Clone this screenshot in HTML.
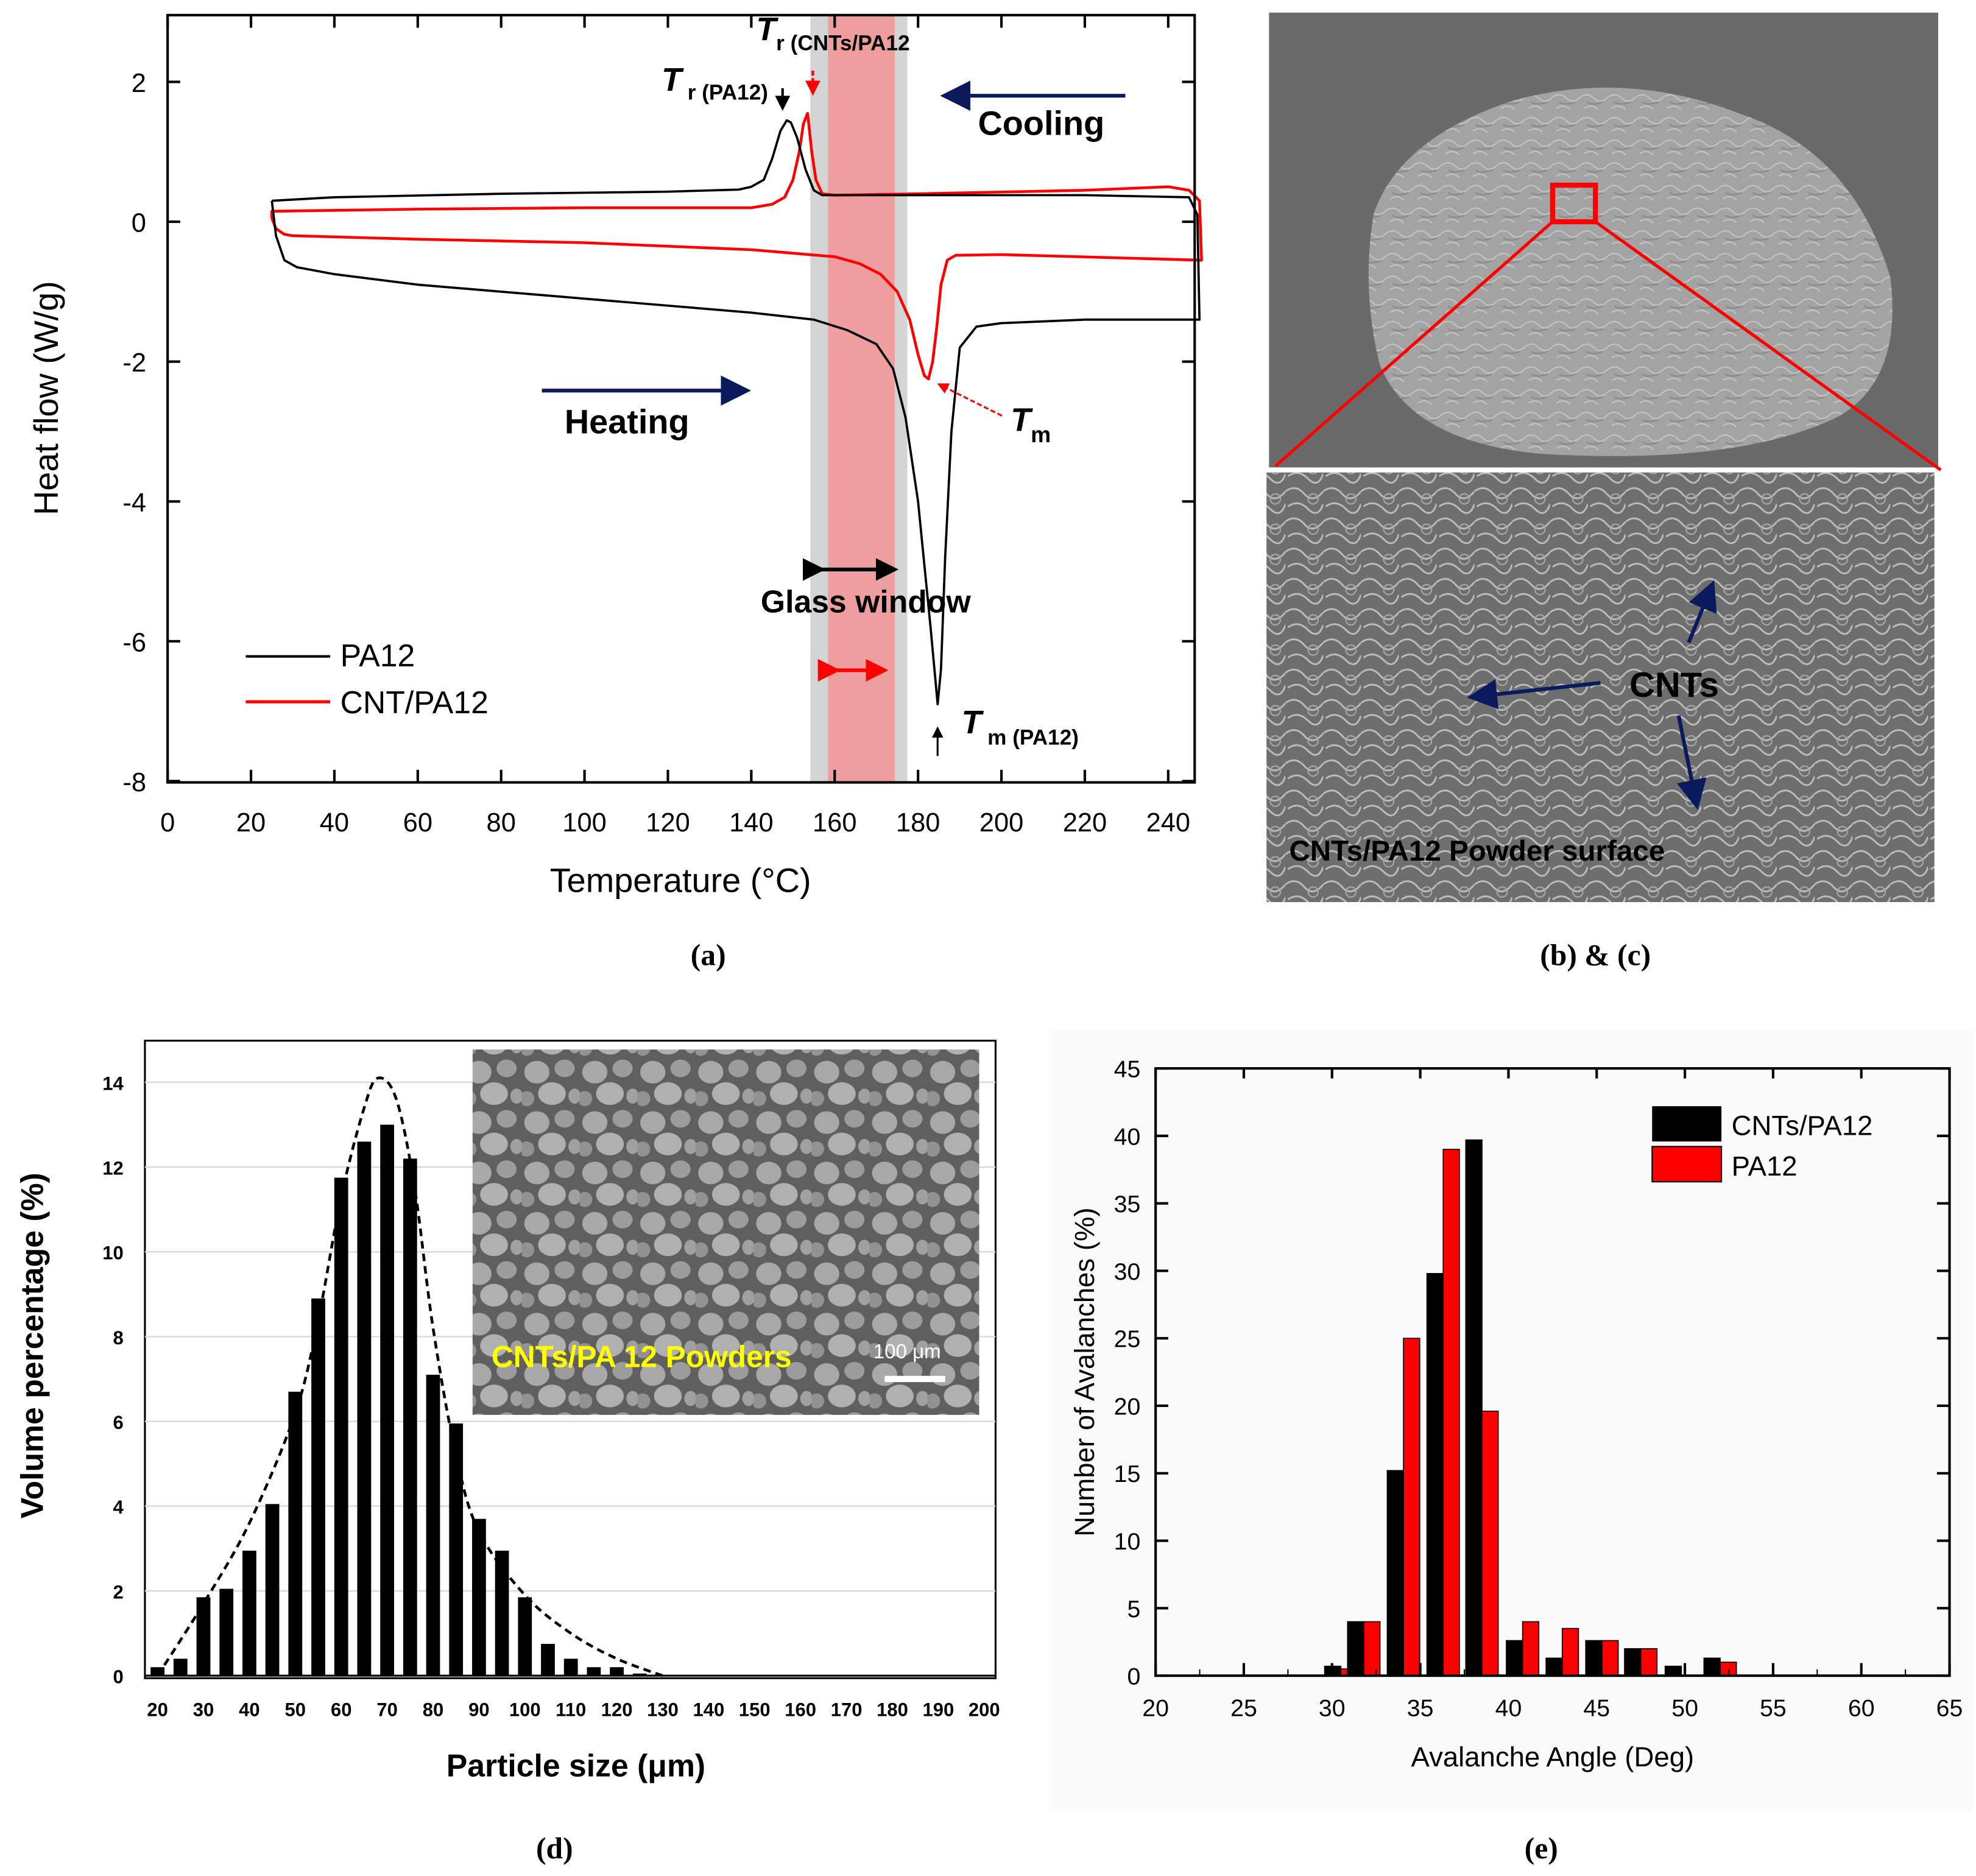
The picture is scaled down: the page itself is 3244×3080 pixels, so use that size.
<!DOCTYPE html>
<html><head><meta charset="utf-8"><style>
html,body{margin:0;padding:0;background:#fff;}
svg{display:block;}
text{font-family:"Liberation Sans",sans-serif;}
.cap{font-family:"Liberation Serif",serif;font-weight:bold;font-size:24px;}
.b{font-weight:bold;}
</style></head><body>
<svg id="fig" width="3244" height="3080" viewBox="0 0 1568 1489" preserveAspectRatio="none" xmlns="http://www.w3.org/2000/svg">
<defs>
<pattern id="grains" width="46" height="40" patternUnits="userSpaceOnUse">
<rect width="46" height="40" fill="#5f5f5f"/>
<ellipse cx="12" cy="11" rx="10" ry="9" fill="#a8a8a8"/>
<ellipse cx="34" cy="8" rx="8" ry="7" fill="#9c9c9c"/>
<ellipse cx="24" cy="28" rx="11" ry="9" fill="#b0b0b0"/>
<ellipse cx="4" cy="32" rx="6" ry="6" fill="#929292"/>
<ellipse cx="42" cy="30" rx="5" ry="6" fill="#a0a0a0"/>
</pattern>
<pattern id="fibers" width="30" height="24" patternUnits="userSpaceOnUse">
<rect width="30" height="24" fill="#6e6e6e"/>
<path d="M0 6 Q8 0 15 8 T30 6 M2 18 Q10 12 18 20 T30 16" stroke="#bdbdbd" stroke-width="1.4" fill="none"/>
<circle cx="22" cy="12" r="4" stroke="#a9a9a9" fill="none"/>
</pattern>
<pattern id="rough" width="22" height="18" patternUnits="userSpaceOnUse">
<rect width="22" height="18" fill="#a3a3a3"/>
<path d="M0 5 Q6 1 11 6 T22 5 M3 14 Q9 10 14 15" stroke="#c4c4c4" stroke-width="1" fill="none"/>
<path d="M5 9 Q10 12 18 9" stroke="#888" stroke-width="1" fill="none"/>
</pattern>
<marker id="arN" markerWidth="8" markerHeight="8" refX="6" refY="4" orient="auto" markerUnits="strokeWidth"><path d="M0,0 L8,4 L0,8z" fill="#0a1a5c"/></marker>
<marker id="arK" markerWidth="6" markerHeight="6" refX="5" refY="3" orient="auto" markerUnits="strokeWidth"><path d="M0,0 L6,3 L0,6z" fill="#000"/></marker>
<marker id="arR" markerWidth="6" markerHeight="6" refX="5" refY="3" orient="auto" markerUnits="strokeWidth"><path d="M0,0 L6,3 L0,6z" fill="#f00"/></marker>
</defs>

<!-- Panel A -->
<g id="pa">
<rect x="643" y="12" width="77" height="609" fill="#d4d4d4"/>
<rect x="657" y="12" width="53" height="609" fill="#ee9e9e"/>
<g id="paCurves"></g>
<rect x="133" y="12" width="815" height="609" fill="none" stroke="#000" stroke-width="2"/>
<g id="paAxes" font-size="21"></g>
<text x="540" y="708" font-size="27" text-anchor="middle">Temperature (°C)</text>
<text transform="translate(46,316) rotate(-90)" font-size="27" text-anchor="middle">Heat flow (W/g)</text>
<line x1="195" y1="521" x2="262" y2="521" stroke="#000" stroke-width="2"/>
<text x="270" y="529" font-size="25">PA12</text>
<line x1="195" y1="557" x2="262" y2="557" stroke="#f00" stroke-width="2.5"/>
<text x="270" y="566" font-size="25">CNT/PA12</text>
<line x1="430" y1="310" x2="590" y2="310" stroke="#0a1a5c" stroke-width="3" marker-end="url(#arN)"/>
<text x="448" y="344" font-size="27" class="b">Heating</text>
<line x1="893" y1="76" x2="752" y2="76" stroke="#0a1a5c" stroke-width="3" marker-end="url(#arN)"/>
<text x="776" y="107" font-size="27" class="b">Cooling</text>
<text x="525" y="72" font-size="26" class="b" font-style="italic">T<tspan font-size="17" dy="7" font-style="normal"> r (PA12)</tspan></text>
<line x1="621" y1="70" x2="621" y2="86" stroke="#000" stroke-width="2" marker-end="url(#arK)"/>
<text x="600" y="32" font-size="26" class="b" font-style="italic">T<tspan font-size="17" dy="8" font-style="normal">r (CNTs/PA12</tspan></text>
<line x1="645" y1="56" x2="645" y2="74" stroke="#f00" stroke-width="2" stroke-dasharray="4,2" marker-end="url(#arR)"/>
<line x1="795" y1="330" x2="745" y2="305" stroke="#f00" stroke-width="1.5" stroke-dasharray="4,2" marker-end="url(#arR)"/>
<text x="802" y="342" font-size="26" class="b" font-style="italic">T<tspan font-size="18" dy="9" font-style="normal">m</tspan></text>
<line x1="744" y1="600" x2="744" y2="578" stroke="#000" stroke-width="1.5" marker-end="url(#arK)"/>
<text x="763" y="582" font-size="26" class="b" font-style="italic">T<tspan font-size="17" dy="9" font-style="normal"> m (PA12)</tspan></text>
<line x1="652" y1="452" x2="710" y2="452" stroke="#000" stroke-width="3" marker-start="url(#arK)" marker-end="url(#arK)"/>
<text x="687" y="486" font-size="25" class="b" text-anchor="middle">Glass  window</text>
<line x1="664" y1="532" x2="702" y2="532" stroke="#f00" stroke-width="3" marker-start="url(#arR)" marker-end="url(#arR)"/>
</g>
<text x="562" y="766" class="cap" text-anchor="middle">(a)</text>

<!-- Panel B & C -->
<g>
<rect x="1007" y="10" width="531" height="361" fill="#6a6a6a"/>
<path d="M1090 170 Q1110 110 1200 80 Q1290 55 1380 90 Q1470 120 1500 220 Q1510 300 1460 330 Q1380 370 1220 360 Q1120 350 1095 290 Q1080 230 1090 170z" fill="url(#rough)"/>
<rect x="1232" y="147" width="34" height="29" fill="none" stroke="#f00" stroke-width="4"/>
<line x1="1232" y1="176" x2="1012" y2="370" stroke="#f00" stroke-width="2.5"/>
<line x1="1266" y1="176" x2="1540" y2="373" stroke="#f00" stroke-width="2.5"/>
<rect x="1005" y="375" width="530" height="341" fill="url(#fibers)"/>
<line x1="1270" y1="542" x2="1170" y2="553" stroke="#0a1a5c" stroke-width="3" marker-end="url(#arN)"/>
<line x1="1340" y1="510" x2="1358" y2="466" stroke="#0a1a5c" stroke-width="3" marker-end="url(#arN)"/>
<line x1="1332" y1="568" x2="1346" y2="637" stroke="#0a1a5c" stroke-width="3" marker-end="url(#arN)"/>
<text x="1293" y="553" font-size="28" class="b">CNTs</text>
<text x="1023" y="683" font-size="23" class="b">CNTs/PA12 Powder surface</text>
</g>
<text x="1266" y="766" class="cap" text-anchor="middle">(b) &amp; (c)</text>

<!-- Panel D -->
<g id="pd">
<rect x="115" y="826" width="675" height="506" fill="#fff" stroke="#000" stroke-width="1.5"/>
<g id="pdGrid"></g>
<rect x="375" y="833" width="402" height="290" fill="url(#grains)"/>
<text x="390" y="1085" font-size="24" class="b" fill="#ffff00">CNTs/PA 12 Powders</text>
<text x="693" y="1078" font-size="16" fill="#fff">100 μm</text>
<rect x="702" y="1092" width="48" height="5" fill="#fff"/>
<g id="pdBars"></g>
<g id="pdAxes" font-size="15" class="b"></g>
<text x="457" y="1410" font-size="25" class="b" text-anchor="middle">Particle size (μm)</text>
<text transform="translate(34,1068) rotate(-90)" font-size="25" class="b" text-anchor="middle">Volume percentage (%)</text>
</g>
<text x="440" y="1475" class="cap" text-anchor="middle">(d)</text>

<!-- Panel E -->
<g id="pe">
<rect x="832" y="818" width="734" height="620" fill="#fafafa"/>
<g id="peBars"></g>
<rect x="917" y="848" width="630" height="482" fill="none" stroke="#000" stroke-width="2"/>
<g id="peAxes" font-size="19"></g>
<rect x="1311" y="878" width="55" height="28" fill="#000"/>
<text x="1374" y="901" font-size="22">CNTs/PA12</text>
<rect x="1311" y="910" width="55" height="28" fill="#f00" stroke="#000"/>
<text x="1374" y="933" font-size="22">PA12</text>
<text x="1232" y="1402" font-size="22" text-anchor="middle">Avalanche Angle (Deg)</text>
<text transform="translate(868,1089) rotate(-90)" font-size="22" text-anchor="middle">Number of Avalanches (%)</text>
</g>
<text x="1223" y="1475" class="cap" text-anchor="middle">(e)</text>
</svg>
<script>
const NS="http://www.w3.org/2000/svg";
// ---- Panel A data
const pa12HeatT=[25,26,28,31,40,60,80,100,120,140,155,163,170,174,177,180,183,184.7,185.5,186.5,188,190,194,200,220,240,247.5];
const pa12HeatV=[0.3,-0.2,-0.55,-0.65,-0.75,-0.9,-1.0,-1.1,-1.2,-1.3,-1.4,-1.55,-1.75,-2.1,-2.8,-4.0,-5.8,-6.9,-6.4,-4.8,-3.0,-1.8,-1.5,-1.45,-1.4,-1.4,-1.4];
const pa12CoolT=[247.5,247,245,220,180,157,155,153,151,149.5,148.5,147,145,143,140,137,120,80,40,25];
const pa12CoolV=[-1.4,0.1,0.35,0.38,0.38,0.38,0.45,0.75,1.2,1.42,1.45,1.3,0.9,0.6,0.5,0.46,0.43,0.4,0.35,0.3];
const cntHeatT=[25,26,28,30,60,100,140,160,166,171,175,178,180,181.5,182.5,183.5,184.5,185.5,187,189,200,230,248];
const cntHeatV=[0.05,-0.1,-0.18,-0.2,-0.25,-0.3,-0.4,-0.5,-0.6,-0.75,-1.0,-1.4,-1.9,-2.2,-2.25,-2.0,-1.5,-0.9,-0.55,-0.48,-0.47,-0.52,-0.55];
const cntCoolT=[248,247.5,245,240,220,180,160,157,155.5,154.5,153.5,152.5,151.5,150,148,145,140,100,60,25,25];
const cntCoolV=[-0.55,0.3,0.45,0.5,0.45,0.4,0.38,0.4,0.6,1.0,1.55,1.4,1.0,0.6,0.35,0.25,0.2,0.2,0.18,0.15,0.05];
const paXTicks=[0,20,40,60,80,100,120,140,160,180,200,220,240];
const paYTicks=[2,0,-2,-4,-6,-8];
const ax=t=>133+t*(794/240), ay=v=>176-v*55.5;
function poly(T,V,col,name,w){const p=document.createElementNS(NS,"polyline");
p.setAttribute("points",T.map((t,i)=>ax(t)+","+ay(V[i])).join(" "));
p.setAttribute("fill","none");p.setAttribute("stroke",col);p.setAttribute("stroke-width",w);p.setAttribute("stroke-linejoin","round");


document.getElementById("paCurves").appendChild(p);}
poly(cntHeatT.concat(cntCoolT),cntHeatV.concat(cntCoolV),"#f00","cnt-pa12-curve",2.2);
poly(pa12HeatT.concat(pa12CoolT),pa12HeatV.concat(pa12CoolV),"#000","pa12-curve",1.8);
function txt(g,x,y,s,anchor){const t=document.createElementNS(NS,"text");t.setAttribute("x",x);t.setAttribute("y",y);t.setAttribute("text-anchor",anchor);t.textContent=s;g.appendChild(t);return t;}
function ln(g,x1,y1,x2,y2,c,w){const l=document.createElementNS(NS,"line");l.setAttribute("x1",x1);l.setAttribute("y1",y1);l.setAttribute("x2",x2);l.setAttribute("y2",y2);l.setAttribute("stroke",c);l.setAttribute("stroke-width",w);g.appendChild(l);return l;}
const ga=document.getElementById("paAxes");
paXTicks.forEach(t=>{const l=ln(ga,ax(t),621,ax(t),611,"#000",2);


const tx=txt(ga,ax(t),660,String(t),"middle");


ln(ga,ax(t),12,ax(t),22,"#000",2);});
paYTicks.forEach(v=>{const l=ln(ga,133,ay(v),143,ay(v),"#000",2);


ln(ga,938,ay(v),948,ay(v),"#000",2);
const tx=txt(ga,116,ay(v)+8,v<0?"-"+(-v):String(v),"end");

});

// ---- Panel D data
const psdSizes=[20,25,30,35,40,45,50,55,60,65,70,75,80,85,90,95,100,105,110,115,120,125];
const psdValues=[0.2,0.4,1.85,2.05,2.95,4.05,6.7,8.9,11.75,12.6,13.0,12.2,7.1,5.95,3.7,2.95,1.85,0.75,0.4,0.2,0.2,0.05];
const fitSizes=[20,30,40,50,55,60,65,68,72,76,80,85,90,100,110,120,130];
const fitValues=[0,1.7,3.6,6.2,8.4,11.3,13.4,14.1,13.6,11.5,8.2,5.2,3.4,1.9,1.0,0.4,0];
const psdXTicks=[20,30,40,50,60,70,80,90,100,110,120,130,140,150,160,170,180,190,200];
const psdYTicks=[0,2,4,6,8,10,12,14];
const dx=s=>125+(s-20)*(656/180), dy=v=>1330-v*33.64;
const gg=document.getElementById("pdGrid");
psdYTicks.forEach(v=>{if(v>0){const l=ln(gg,115,dy(v),790,dy(v),"#d9d9d9",1.2);

}});
const gb=document.getElementById("pdBars");
ln(gb,115,1330,790,1330,"#000",1.5);
psdSizes.forEach((s,i)=>{const r=document.createElementNS(NS,"rect");
r.setAttribute("x",dx(s)-5.5);r.setAttribute("width",11);r.setAttribute("y",dy(psdValues[i]));r.setAttribute("height",1330-dy(psdValues[i]));r.setAttribute("fill","#000");


gb.appendChild(r);});
const fp=document.createElementNS(NS,"path");
let d="";for(let i=0;i<fitSizes.length;i++){const x=dx(fitSizes[i]),y=dy(fitValues[i]);
if(i==0)d+="M"+x+","+y;else{const p0=i>1?[dx(fitSizes[i-2]),dy(fitValues[i-2])]:[dx(fitSizes[0]),dy(fitValues[0])];const p1=[dx(fitSizes[i-1]),dy(fitValues[i-1])];const p3=i<fitSizes.length-1?[dx(fitSizes[i+1]),dy(fitValues[i+1])]:[x,y];
d+=" C"+(p1[0]+(x-p0[0])/6)+","+(p1[1]+(y-p0[1])/6)+" "+(x-(p3[0]-p1[0])/6)+","+(y-(p3[1]-p1[1])/6)+" "+x+","+y;}}
fp.setAttribute("d",d);fp.setAttribute("fill","none");fp.setAttribute("stroke","#000");fp.setAttribute("stroke-width",2.2);fp.setAttribute("stroke-dasharray","6,4");


gb.appendChild(fp);
const gda=document.getElementById("pdAxes");
psdXTicks.forEach(s=>{const t=txt(gda,dx(s),1362,String(s),"middle");

});
psdYTicks.forEach(v=>{const t=txt(gda,98,dy(v)+6,String(v),"end");

});

// ---- Panel E data
const angleCenters=[30.5,31.8,34.05,36.3,38.5,40.8,43.05,45.3,47.5,49.8,52.0];
const cntsValues=[0.7,4.0,15.2,29.8,39.7,2.6,1.3,2.6,2.0,0.7,1.3];
const pa12Values=[0.5,4.0,25.0,39.0,19.6,4.0,3.5,2.6,2.0,0,1.0];
const angXTicks=[20,25,30,35,40,45,50,55,60,65];
const angYTicks=[0,5,10,15,20,25,30,35,40,45];
const ex=a=>917+(a-20)*14, ey=v=>1330-v*(482/45);
const gpe=document.getElementById("peBars");
angleCenters.forEach((c,i)=>{
 [[cntsValues[i],"#000",-0.92,'bar-cnts-pa12'],[pa12Values[i],"#f00",0,'bar-pa12']].forEach(([v,col,off,nm])=>{
 if(v<=0)return;const r=document.createElementNS(NS,"rect");
 r.setAttribute("x",ex(c+off));r.setAttribute("width",0.92*14);r.setAttribute("y",ey(v));r.setAttribute("height",1330-ey(v));
 r.setAttribute("fill",col);r.setAttribute("stroke","#000");r.setAttribute("stroke-width",0.8);
 
 
 gpe.appendChild(r);});});
const gea=document.getElementById("peAxes");
angXTicks.forEach(a=>{const l=ln(gea,ex(a),1330,ex(a),1320,"#000",2);


ln(gea,ex(a),848,ex(a),856,"#000",2);
ln(gea,ex(a+2.5),1330,ex(a+2.5),1325,"#000",1);
const t=txt(gea,ex(a),1362,String(a),"middle");

});
angYTicks.forEach(v=>{const l=ln(gea,917,ey(v),927,ey(v),"#000",2);


ln(gea,1537,ey(v),1547,ey(v),"#000",2);
const t=txt(gea,905,ey(v)+7,String(v),"end");

});
</script>
</body></html>
